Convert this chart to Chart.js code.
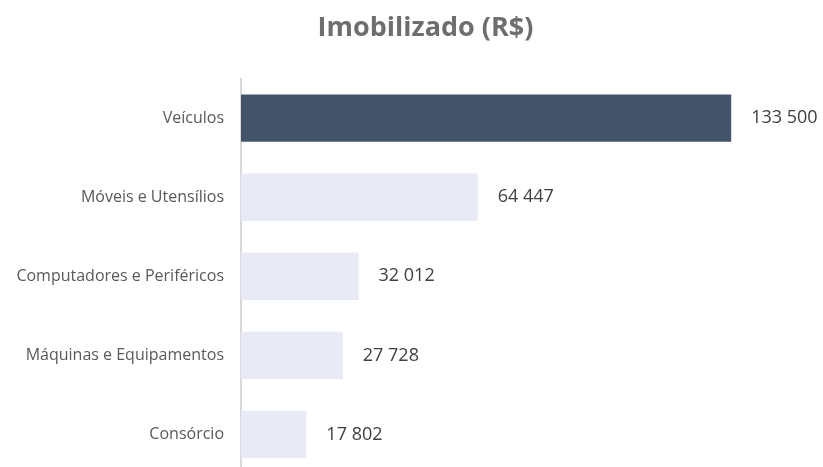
<!DOCTYPE html>
<html>
<head>
<meta charset="utf-8">
<script src="https://cdn.jsdelivr.net/npm/chart.js@4"></script>
<style>
    html, body { margin: 0; padding: 0; background: #fff; overflow: hidden; }
</style>
</head>
<body>
<canvas id="assetChart" width="823" height="474"></canvas>
<script>
let categories = [
    "Veículos",
    "Móveis e Utensílios",
    "Computadores e Periféricos",
    "Máquinas e Equipamentos",
    "Consórcio"
];

let assetValues = [133500, 64447, 32012, 27728, 17802];

let barColors = [
    "#44546A",  // Veículos
    "#E8EBF5",
    "#E8EBF5",
    "#E8EBF5",
    "#E8EBF5"
];

const chartTitle = "Imobilizado (R$)";
const fontFamily = "'Open Sans', sans-serif";

function formatValue(v) {
    return String(v).replace(/\B(?=(\d{3})+(?!\d))/g, " ");
}

// title sits a bit right of the canvas centre, like the original
const offsetTitle = {
    id: "offsetTitle",
    afterDraw(chart) {
        const ctx = chart.ctx;
        ctx.save();
        ctx.font = "bold 27px " + fontFamily;
        ctx.fillStyle = "#6E6E6E";
        ctx.textAlign = "center";
        ctx.textBaseline = "middle";
        ctx.fillText(chartTitle, 425.5, 28.2);
        ctx.restore();
    }
};

// values to the right of each bar
const valueLabels = {
    id: "valueLabels",
    afterDatasetsDraw(chart) {
        const ctx = chart.ctx;
        const meta = chart.getDatasetMeta(0);
        ctx.save();
        ctx.font = "18px " + fontFamily;
        ctx.fillStyle = "#404040";
        ctx.textAlign = "left";
        ctx.textBaseline = "middle";
        meta.data.forEach((bar, i) => {
            ctx.fillText(formatValue(assetValues[i]), bar.x + 20, bar.y);
        });
        ctx.restore();
    }
};

new Chart(document.getElementById("assetChart"), {
    type: "bar",
    data: {
        labels: categories,
        datasets: [{
            data: assetValues,
            backgroundColor: barColors,
            categoryPercentage: 1,
            barPercentage: 0.6
        }]
    },
    options: {
        indexAxis: "y",
        responsive: false,
        animation: false,
        layout: { padding: { left: 0, right: 0, top: 78.6, bottom: 0 } },
        plugins: {
            legend: { display: false },
            tooltip: { enabled: false },
            title: { display: false }
        },
        scales: {
            x: {
                min: 0,
                max: 158500,
                display: false
            },
            y: {
                afterFit(scale) {
                    scale.width = 241;
                    scale.paddingTop = 0;
                    scale.paddingBottom = 0;
                },
                grid: { drawOnChartArea: false, drawTicks: false },
                border: { color: "#D9D9D9", width: 2 },
                ticks: {
                    color: "#595959",
                    padding: 17,
                    font: { family: fontFamily, size: 16 }
                }
            }
        }
    },
    plugins: [valueLabels, offsetTitle]
});
</script>
</body>
</html>
